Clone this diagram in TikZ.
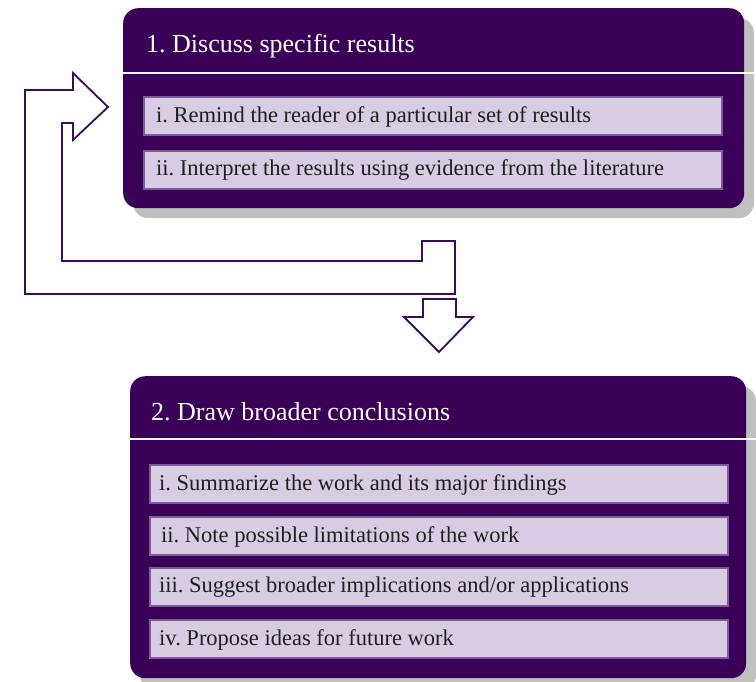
\documentclass[tikz,border=0pt]{standalone}
\usepackage{fontspec}
\setmainfont{Liberation Serif}
\frenchspacing
\definecolor{deep}{RGB}{58,0,88}
\definecolor{lav}{RGB}{216,204,226}
\definecolor{lavedge}{RGB}{125,92,154}
\definecolor{arrowc}{RGB}{58,10,94}
\definecolor{shade}{RGB}{192,192,192}
\begin{document}
\begin{tikzpicture}[x=1pt,y=-1pt,
  panel/.style={fill=deep,rounded corners=15pt,draw=none},
  shadowbox/.style={fill=shade,rounded corners=15pt,draw=none},
  titletext/.style={anchor=west,text=white,font=\fontsize{26}{30}\selectfont,inner sep=0pt},
  item/.style={fill=lav,draw=lavedge,line width=1.6pt},
  itemtext/.style={anchor=west,inner sep=0pt,text=black!88,font=\fontsize{22.5}{26}\selectfont},
  blockarrow/.style={draw=arrowc,line width=1.8pt,fill=white,line join=miter}]
\useasboundingbox (0,0) rectangle (756,681);
% ---------- top panel ----------
\fill[shadowbox] (133,18) rectangle (754,218);
\node[panel,anchor=north west,minimum width=621pt,minimum height=200pt,inner sep=0pt] (p1) at (123,8) {};
\draw[white,line width=1.6pt] (123,73) -- (756,73);
\node[titletext] (t1) at (146,46) {1. Discuss specific results};
\draw[item] (144,97) rectangle (722,135);
\node[itemtext] (a1) at (156,116.5) {i. Remind the reader of a particular set of results};
\draw[item] (144,151) rectangle (722,189);
\node[itemtext] (a2) at (156,170.5) {ii. Interpret the results using evidence from the literature};
% ---------- bottom panel ----------
\fill[shadowbox] (140,386) rectangle (756,690);
\node[panel,anchor=north west,minimum width=616pt,minimum height=302pt,inner sep=0pt] (p2) at (130,376) {};
\draw[white,line width=1.6pt] (130,439) -- (756,439);
\node[titletext] (t2) at (151,412) {2. Draw broader conclusions};
\draw[item] (150,465) rectangle (728,503);
\node[itemtext] (b1) at (159,484.5) {i. Summarize the work and its major findings};
\draw[item] (150,517) rectangle (728,555);
\node[itemtext] (b2) at (161,536.5) {ii. Note possible limitations of the work};
\draw[item] (150,568) rectangle (728,606);
\node[itemtext] (b3) at (159,587.5) {iii. Suggest broader implications and/or applications};
\draw[item] (150,620) rectangle (728,658);
\node[itemtext] (b4) at (159,639.5) {iv. Propose ideas for future work};
% ---------- loop arrow ----------
\draw[blockarrow] (25,90) -- (73,90) -- (73,73) -- (108,107) -- (73,140) -- (73,123)
  -- (62,123) -- (62,261) -- (422,261) -- (422,241) -- (455,241) -- (455,294) -- (25,294) -- cycle;
% ---------- down arrow ----------
\draw[blockarrow] (423,299) -- (456,299) -- (456,317) -- (473,317) -- (439,352) -- (404,317)
  -- (423,317) -- cycle;
\end{tikzpicture}
\end{document}
